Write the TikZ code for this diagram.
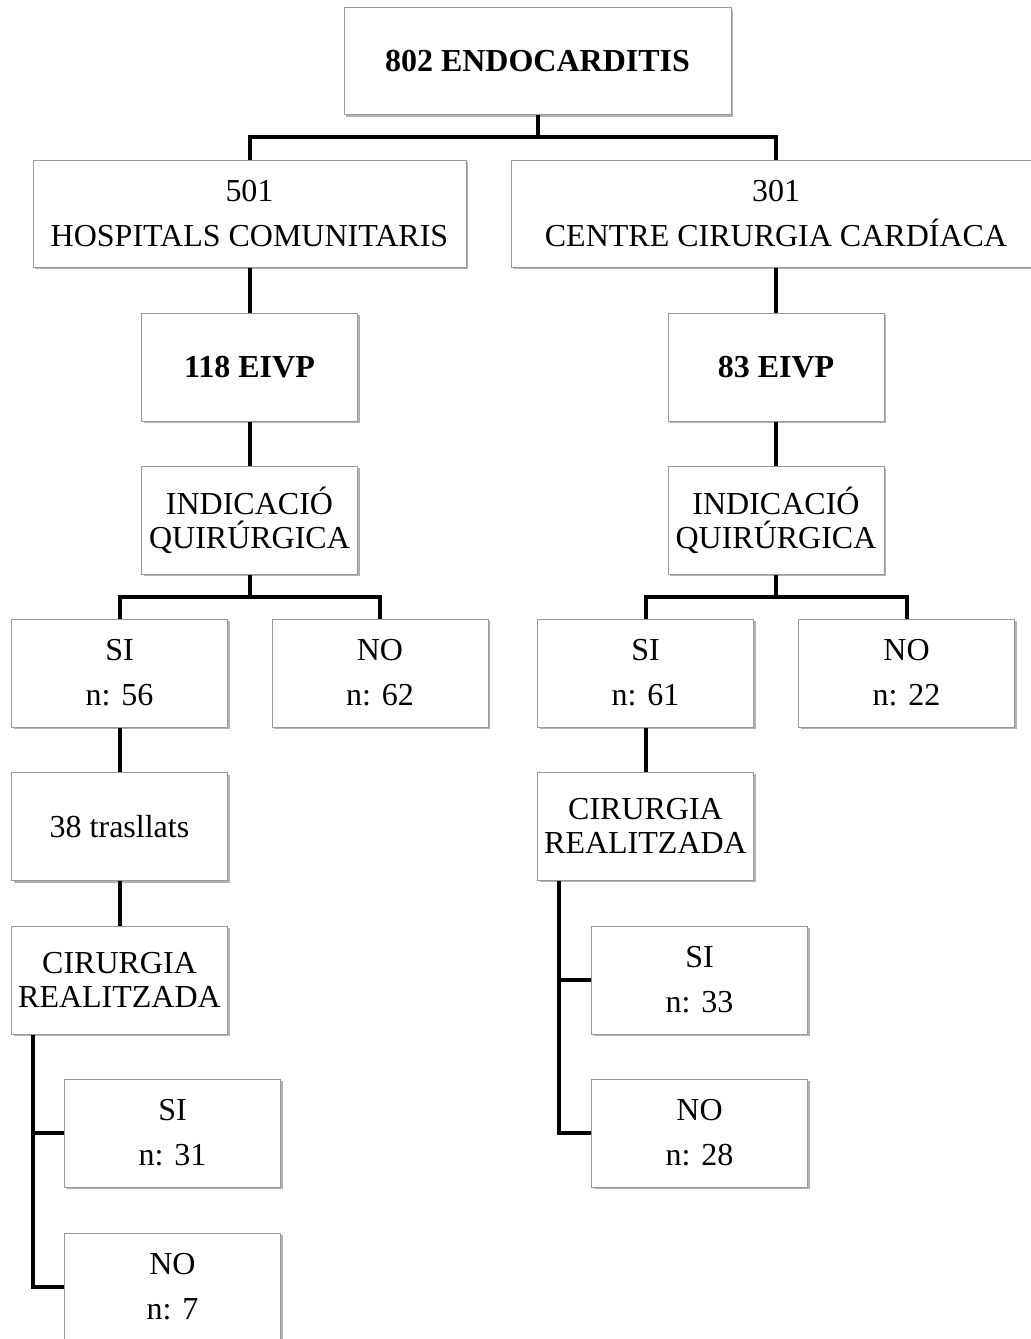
\documentclass[tikz,border=0pt]{standalone}
\usepackage{fontspec}
\setmainfont{Liberation Serif}
\usetikzlibrary{shadows}

\begin{document}
\begin{tikzpicture}[x=0.5pt, y=-0.5pt, line width=2pt,
  main box/.style={rectangle, draw=gray!80, line width=0.5pt, fill=white, align=center, inner sep=0pt,
    minimum width=108pt, minimum height=54pt, font=\fontsize{16}{17}\selectfont,
    drop shadow={shadow xshift=1pt, shadow yshift=-1.2pt, opacity=0.3, fill=black}},
  title box/.style={main box, font=\fontsize{16}{17}\selectfont\bfseries},
  loose box/.style={main box, font=\fontsize{16}{22.5}\selectfont}]
\useasboundingbox (0,0) rectangle (1031,1339);
\fill[white] (0,0) rectangle (1031,1339);
\clip (0,0) rectangle (1031,1339);
\begin{scope}
\node[title box, minimum width=193.5pt, minimum height=53.5pt] (endo) at (537.5,61) {802 ENDOCARDITIS};
\node[loose box, minimum width=216.5pt, minimum height=53.5pt] (hosp) at (249.5,213.5) {501\\HOSPITALS COMUNITARIS};
\node[loose box, minimum width=265pt, minimum height=53.5pt] (ccc) at (776,213.5) {301\\CENTRE CIRURGIA CARDÍACA};
\node[title box] (eivpL) at (249.5,367) {118 EIVP};
\node[title box] (eivpR) at (776,367) {83 EIVP};
\node[main box] (indL) at (249.5,520) {INDICACIÓ\\QUIRÚRGICA};
\node[main box] (indR) at (776,520) {INDICACIÓ\\QUIRÚRGICA};
\node[loose box] (siL) at (119.5,673) {SI\\n: 56};
\node[loose box] (noL) at (380,673) {NO\\n: 62};
\node[loose box] (siR) at (645.5,673) {SI\\n: 61};
\node[loose box] (noR) at (906.5,673) {NO\\n: 22};
\node[main box] (tras) at (119.5,826.5) {38 trasllats};
\node[main box] (cirL) at (119.5,980) {CIRURGIA\\REALITZADA};
\node[loose box] (cirSiL) at (172.5,1133) {SI\\n: 31};
\node[loose box] (cirNoL) at (172.5,1287) {NO\\n: 7};
\node[main box] (cirR) at (645.5,826) {CIRURGIA\\REALITZADA};
\node[loose box] (cirSiR) at (699.5,980) {SI\\n: 33};
\node[loose box] (cirNoR) at (699.5,1133) {NO\\n: 28};
\end{scope}
%branch points
\coordinate (splitTop) at (537.5,137);
\coordinate (splitL) at (249.5,597);
\coordinate (splitR) at (776,597);
\begin{scope}[every edge/.style={draw=black,line width=2pt}]
\draw (endo) edge (splitTop);
\draw (splitTop) -| (hosp);
\draw (splitTop) -| (ccc);
\draw (hosp) edge (eivpL);
\draw (ccc) edge (eivpR);
\draw (eivpL) edge (indL);
\draw (eivpR) edge (indR);
\draw (indL) edge (splitL);
\draw (splitL) -| (siL);
\draw (splitL) -| (noL);
\draw (indR) edge (splitR);
\draw (splitR) -| (siR);
\draw (splitR) -| (noR);
\draw (siL) edge (tras);
\draw (tras) edge (cirL);
\draw (siR) edge (cirR);
\draw ([xshift=11pt]cirL.south west) |- (cirSiL);
\draw ([xshift=11pt]cirL.south west) |- (cirNoL);
\draw ([xshift=11pt]cirR.south west) |- (cirSiR);
\draw ([xshift=11pt]cirR.south west) |- (cirNoR);
\end{scope}
\end{tikzpicture}
\end{document}
